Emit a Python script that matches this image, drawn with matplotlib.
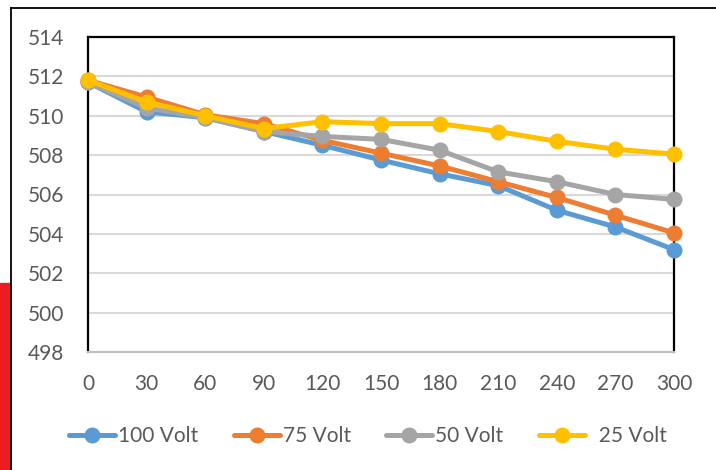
import matplotlib.pyplot as plt
from matplotlib.lines import Line2D
from matplotlib.patches import Rectangle

plt.rcParams['font.family'] = ['Lato', 'DejaVu Sans']

time = [0, 30, 60, 90, 120, 150, 180, 210, 240, 270, 300]
v100 = [511.7, 510.2, 509.9, 509.2, 508.5, 507.75, 507.05, 506.45, 505.2, 504.35, 503.2]
v75 = [511.8, 510.95, 510.05, 509.6, 508.75, 508.1, 507.45, 506.65, 505.85, 504.95, 504.05]
v50 = [511.7, 510.4, 509.9, 509.2, 508.95, 508.8, 508.25, 507.15, 506.65, 506.0, 505.75]
v25 = [511.8, 510.7, 510.0, 509.35, 509.7, 509.6, 509.6, 509.2, 508.7, 508.3, 508.05]

series = [('100 Volt', v100, '#5B9BD5'),
          ('75 Volt', v75, '#ED7D31'),
          ('50 Volt', v50, '#A5A5A5'),
          ('  25 Volt', v25, '#FFC000')]

fig = plt.figure(figsize=(7.16, 4.70), dpi=100)
ax = fig.add_axes([88/716, 1 - 352/470, (674 - 88)/716, (352 - 37)/470])

for name, vals, col in series:
    ax.plot(time, vals, color=col, lw=3.6, marker='o', ms=10.5, label=name,
            solid_capstyle='round', zorder=3)

ax.set_xlim(0, 300)
ax.set_ylim(498, 514)
ax.set_xticks(time)
ax.set_yticks(range(498, 515, 2))
ax.grid(axis='y', color='#D9D9D9', lw=1.5)
ax.set_axisbelow(True)
ax.tick_params(length=0, labelsize=15, colors='#595959')
ax.tick_params(axis='x', pad=16)
ax.tick_params(axis='y', pad=17)
for s in ['left', 'top', 'right']:
    ax.spines[s].set_color('black')
    ax.spines[s].set_linewidth(1.6)
ax.spines['bottom'].set_color('#BFBFBF')
ax.spines['bottom'].set_linewidth(1.5)
for p in ax.get_lines():
    p.set_clip_on(False)

ax.legend(loc='center', bbox_to_anchor=(368/716, 1 - 436/470), bbox_transform=fig.transFigure,
          ncol=4, frameon=False, fontsize=15, handlelength=2.2, columnspacing=1.7,
          handletextpad=0.15, labelcolor='#595959')

# outer frame and red block
fig.add_artist(Line2D([11/716, 11/716], [0, 1 - 8/470], color='black', lw=1.3, transform=fig.transFigure))
fig.add_artist(Line2D([11/716, 1], [1 - 8/470, 1 - 8/470], color='black', lw=1.3, transform=fig.transFigure))
fig.add_artist(Rectangle((0, 0), 10/716, (470 - 283)/470, color='#ED1C24', transform=fig.transFigure))

fig.savefig('out.png', dpi=100)
